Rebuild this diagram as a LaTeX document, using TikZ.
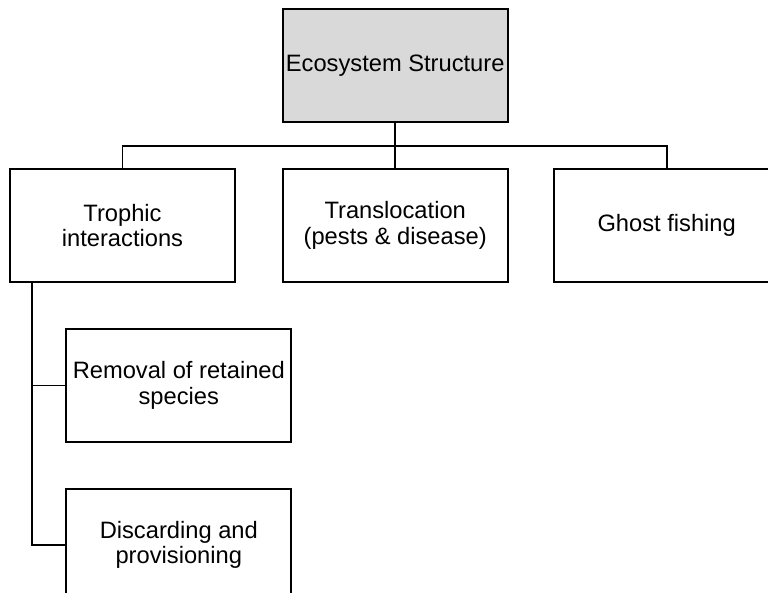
\documentclass[tikz,border=0pt]{standalone}
\usepackage{fontspec}
\setmainfont{Liberation Sans}
\definecolor{rootgray}{HTML}{D9D9D9}
\begin{document}
\begin{tikzpicture}[x=1pt,y=-1pt,line width=1.9pt,
				every node/.style={rectangle,draw,fill=white,align=center,
					minimum width=225pt,minimum height=112.5pt,inner sep=2pt,
					font=\fontsize{23.7}{25.5}\selectfont},
				rootbox/.style={fill=rootgray}]
\clip (0,0) rectangle (768,593);
\node[rootbox] (eco) at (395.2,65.7) {Ecosystem Structure};
\node (trophic) at (122.5,225.5) {Trophic\\interactions};
\node (transloc) at (395.2,225.5) {Translocation\\(pests \& disease)};
\node (ghost) at (666.7,225.5) {Ghost fishing};
\node (removal) at (178.8,385.5) {Removal of retained\\species};
\node (discard) at (178.8,545) {Discarding and\\provisioning};
\coordinate (bar) at (395.2,145.7);
\coordinate (trunk) at ([xshift=22.7pt]trophic.south west);
\draw (eco.south) -- (transloc.north);
\draw (trophic.north) |- (bar) -| (ghost.north);
\draw (trunk) |- (removal.west);
\draw (trunk) |- (discard.west);
\end{tikzpicture}
\end{document}
